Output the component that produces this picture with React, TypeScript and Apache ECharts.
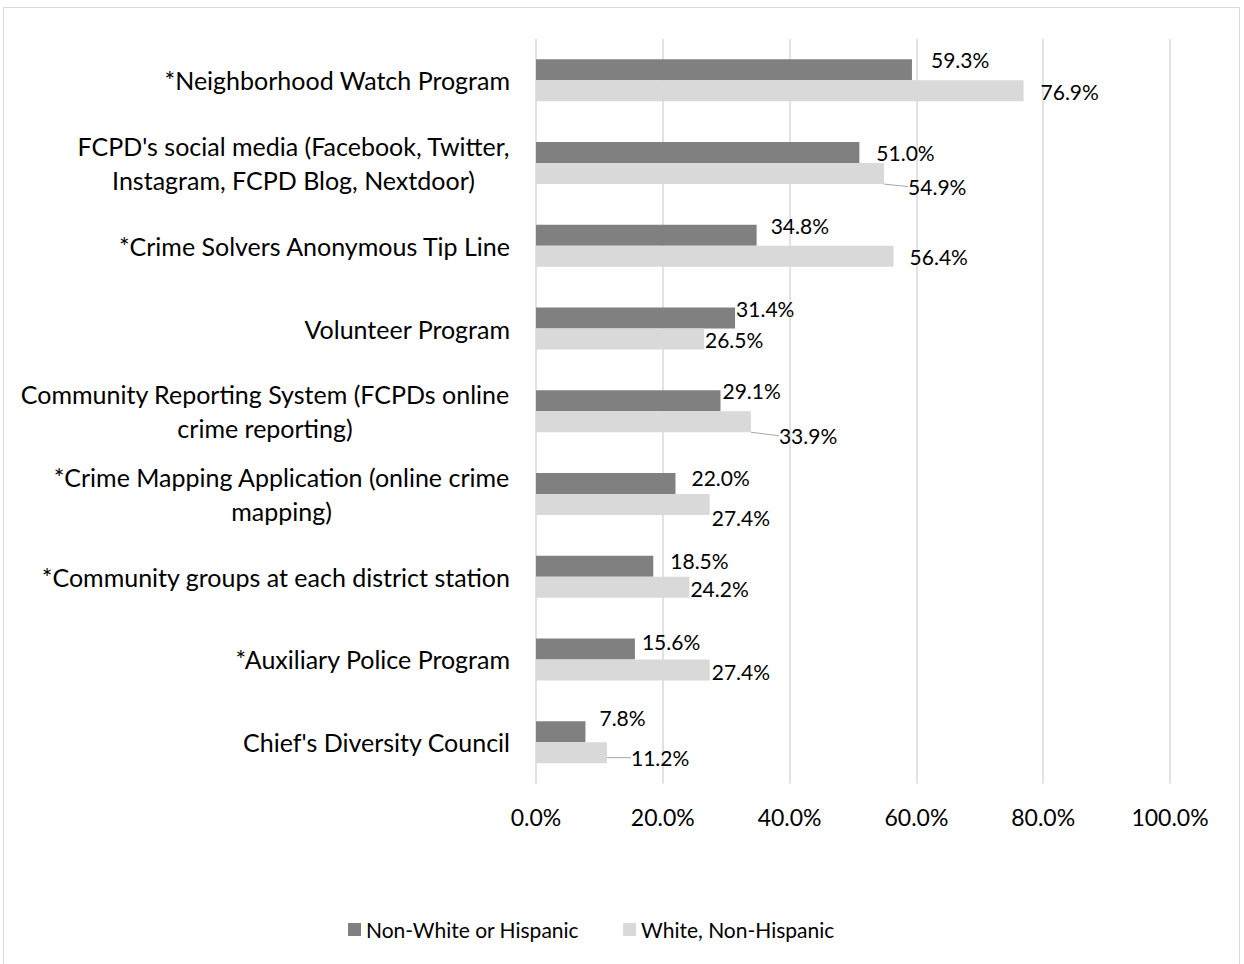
import React, { useEffect, useRef } from "react";
import * as echarts from "echarts";

const categories = [
  "*Neighborhood Watch Program",
  "FCPD's social media (Facebook, Twitter,\nInstagram, FCPD Blog, Nextdoor)",
  "*Crime Solvers Anonymous Tip Line",
  "Volunteer Program",
  "Community Reporting System (FCPDs online\ncrime reporting)",
  "*Crime Mapping Application (online crime\nmapping)",
  "*Community groups at each district station",
  "*Auxiliary Police Program",
  "Chief's Diversity Council",
];
const seriesNames = ["Non-White or Hispanic", "White, Non-Hispanic"];
const nonWhiteValues = [59.3, 51.0, 34.8, 31.4, 29.1, 22.0, 18.5, 15.6, 7.8];
const whiteValues = [76.9, 54.9, 56.4, 26.5, 33.9, 27.4, 24.2, 27.4, 11.2];
const xTicks = [0, 20, 40, 60, 80, 100];

// label placement tweaks (layout only)
const darkLabelShift = [
  [14, -10], [12, 0], [9, -10], [-4, -10], [-3, -10], [11, -6], [12, -6], [2, -7], [9, -14],
];
const lightLabelShift = [
  [12, 1], [19, 13], [11, 0], [-4, 0], [23, 14], [-3, 13], [-4, 1], [-3, 2], [19, 5],
];
const lightLeader = [1, 4, 8];

const FONT = "Lato, 'Open Sans', sans-serif";
const CAT_SIZE = 25;

function measure(text: string, size: number): number {
  const c = document.createElement("canvas");
  const ctx = c.getContext("2d");
  if (!ctx) return text.length * size * 0.5;
  ctx.font = `${size}px ${FONT}`;
  return ctx.measureText(text).width;
}

export default function App() {
  const ref = useRef<HTMLDivElement>(null);
  useEffect(() => {
    if (!ref.current) return;
    const chart = echarts.init(ref.current, undefined, { renderer: "svg" });

    const rich: Record<string, any> = {};
    categories.forEach((cat, i) => {
      if (cat.includes("\n")) {
        const lines = cat.split("\n");
        const w = Math.ceil(Math.max(...lines.map((l) => measure(l, CAT_SIZE))));
        rich["m" + i] = {
          width: w,
          align: "center",
          fontSize: CAT_SIZE,
          fontFamily: FONT,
          color: "#000",
          lineHeight: 34,
        };
      }
    });

    const labelBase = {
      show: true,
      position: "right",
      color: "#000",
      fontSize: 21,
      fontFamily: FONT,
      formatter: (p: any) => Number(p.value).toFixed(1) + "%",
    };
    const leaderStyle = { color: "#a6a6a6", width: 1 };
    chart.setOption({
      animation: false,
      backgroundColor: "#fff",
      textStyle: { fontFamily: FONT },
      graphic: [
        {
          type: "rect",
          shape: { x: 3.5, y: 7.5, width: 1236, height: 980 },
          style: { fill: "none", stroke: "#d9d9d9", lineWidth: 1 },
          silent: true,
        },
      ],
      grid: { left: 536, right: 74, top: 39, bottom: 180.5, containLabel: false },
      legend: {
        bottom: 19,
        left: 343,
        icon: "rect",
        itemWidth: 13,
        itemHeight: 13,
        itemGap: 44,
        textStyle: { fontSize: 21, color: "#000", fontFamily: FONT },
        data: seriesNames,
      },
      xAxis: {
        type: "value",
        min: 0,
        max: 100,
        interval: 20,
        axisLine: { show: false },
        axisTick: { show: false },
        splitLine: { show: true, lineStyle: { color: "#d9d9d9", width: 1.5 } },
        axisLabel: {
          fontSize: 23,
          color: "#000",
          fontFamily: FONT,
          margin: 22,
          formatter: (v: number) => (xTicks.includes(v) ? v.toFixed(1) + "%" : ""),
        },
      },
      yAxis: {
        type: "category",
        inverse: true,
        data: categories,
        axisLine: { show: false },
        axisTick: { show: false },
        axisLabel: {
          fontSize: CAT_SIZE,
          color: "#000",
          fontFamily: FONT,
          margin: 26,
          lineHeight: 34,
          rich,
          formatter: (value: string) => {
            const i = categories.indexOf(value);
            if (value.includes("\n")) {
              return value
                .split("\n")
                .map((l) => `{m${i}|${l}}`)
                .join("\n");
            }
            return value;
          },
        },
      },
      series: [
        {
          name: seriesNames[0],
          type: "bar",
          barWidth: 21,
          barGap: "0%",
          itemStyle: { color: "#808080" },
          label: labelBase,
          labelLayout: (p: any) => ({
            dx: darkLabelShift[p.dataIndex][0],
            dy: darkLabelShift[p.dataIndex][1],
          }),
          data: nonWhiteValues.map((v) => ({ value: v })),
        },
        {
          name: seriesNames[1],
          type: "bar",
          barWidth: 21,
          barGap: "0%",
          itemStyle: { color: "#d9d9d9" },
          label: labelBase,
          labelLine: { show: false, lineStyle: leaderStyle },
          labelLayout: (p: any) => ({
            dx: lightLabelShift[p.dataIndex][0],
            dy: lightLabelShift[p.dataIndex][1],
          }),
          data: whiteValues.map((v, i) => ({
            value: v,
            labelLine: { show: lightLeader.includes(i), lineStyle: leaderStyle },
          })),
        },
      ],
    });
    return () => chart.dispose();
  }, []);
  return (
    <div
      ref={ref}
      style={{ position: "fixed", left: 0, top: 0, width: 1244, height: 964 }}
    />
  );
}
